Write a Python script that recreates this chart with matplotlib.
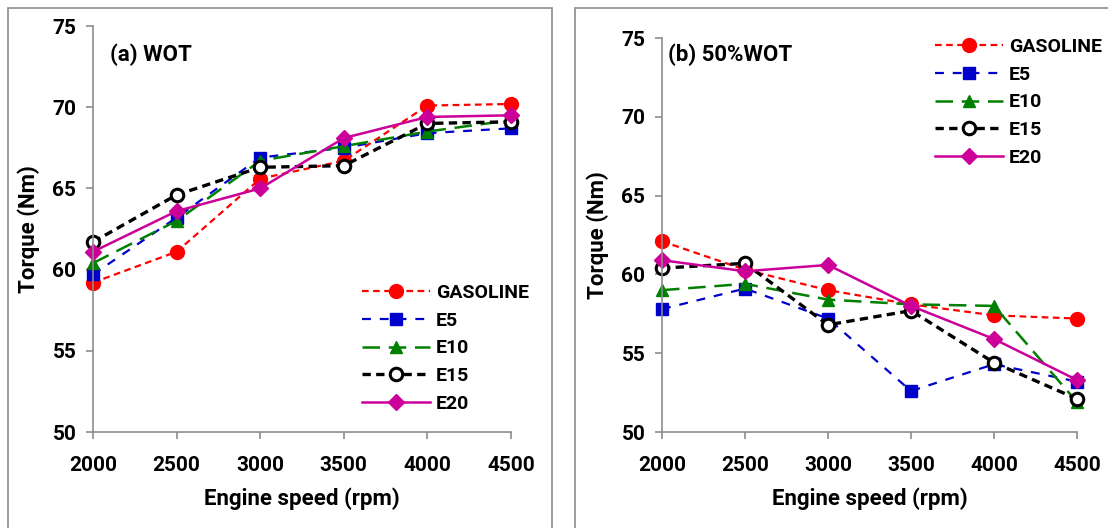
import matplotlib.pyplot as plt
from matplotlib.patches import Rectangle

# Engine speed (rpm)
speed = [2000, 2500, 3000, 3500, 4000, 4500]

# (a) WOT torque (Nm)
wot_gasoline = [59.2, 61.1, 65.6, 66.7, 70.1, 70.2]
wot_e5 = [59.7, 63.2, 66.9, 67.5, 68.4, 68.7]
wot_e10 = [60.4, 63.0, 66.7, 67.6, 68.5, 69.2]
wot_e15 = [61.7, 64.6, 66.3, 66.4, 69.0, 69.1]
wot_e20 = [61.1, 63.6, 65.0, 68.1, 69.4, 69.5]

# (b) 50% WOT torque (Nm)
half_gasoline = [62.1, 60.3, 59.0, 58.1, 57.4, 57.2]
half_e5 = [57.8, 59.1, 57.2, 52.6, 54.3, 53.2]
half_e10 = [59.0, 59.4, 58.4, 58.1, 58.0, 51.9]
half_e15 = [60.4, 60.7, 56.8, 57.7, 54.4, 52.1]
half_e20 = [60.9, 60.2, 60.6, 58.0, 55.9, 53.3]

labels = ["GASOLINE", "E5", "E10", "E15", "E20"]

styles = [
    dict(color="#FF0000", ls=(0, (3, 2)), lw=1.6, marker="o", ms=10,
         mfc="#FF0000", mec="#FF0000"),
    dict(color="#0000CC", ls=(0, (4, 4)), lw=1.6, marker="s", ms=9,
         mfc="#0000CC", mec="#0000CC"),
    dict(color="#008000", ls=(0, (7, 3.5)), lw=1.8, marker="^", ms=9,
         mfc="#008000", mec="#008000"),
    dict(color="#000000", ls=(0, (2.5, 1.6)), lw=2.4, marker="o", ms=9,
         mfc="white", mec="#000000", mew=2.2),
    dict(color="#CC0099", ls="-", lw=1.8, marker="D", ms=8,
         mfc="#CC0099", mec="#CC0099"),
]

plt.rcParams["font.family"] = ["Roboto", "DejaVu Sans"]
plt.rcParams["font.weight"] = "bold"

W, H = 1108, 528
fig = plt.figure(figsize=(W / 100, H / 100), dpi=100)

# panel frames
for x0, w in [(8, 544), (575, 540)]:
    fig.add_artist(Rectangle((x0 / W, -0.1), w / W, (H - 8) / H + 0.1,
                             transform=fig.transFigure, fill=False,
                             edgecolor="#8c8c8c", lw=1.2))

ax1 = fig.add_axes([93 / W, 96 / H, (511 - 93) / W, (432 - 26) / H])
ax2 = fig.add_axes([662 / W, 96 / H, (1077 - 662) / W, (432 - 38) / H])

panels = [
    (ax1, [wot_gasoline, wot_e5, wot_e10, wot_e15, wot_e20], "(a) WOT",
     (110, 55), (362, 284)),
    (ax2, [half_gasoline, half_e5, half_e10, half_e15, half_e20], "(b) 50%WOT",
     (668, 55), (935, 38)),
]

for ax, series, tag, tag_xy, leg_xy in panels:
    for vals, lab, st in zip(series, labels, styles):
        ax.plot(speed, vals, label=lab, clip_on=False, **st)
    ax.set_xlim(2000, 4500)
    ax.set_ylim(50, 75)
    ax.set_xticks(speed)
    ax.set_yticks([50, 55, 60, 65, 70, 75])
    for s in ["top", "right"]:
        ax.spines[s].set_visible(False)
    for s in ["left", "bottom"]:
        ax.spines[s].set_color("#8c8c8c")
        ax.spines[s].set_linewidth(1.2)
    ax.tick_params(axis="both", colors="#8c8c8c", labelcolor="black",
                   labelsize=15, length=5, width=1.2, direction="out")
    ax.tick_params(axis="x", pad=12)
    ax.tick_params(axis="y", pad=7)
    for t in ax.get_xticklabels() + ax.get_yticklabels():
        t.set_fontweight("bold")
    ax.set_xlabel("Engine speed (rpm)", fontsize=16, fontweight="bold", labelpad=9)
    ax.set_ylabel("Torque (Nm)", fontsize=16, fontweight="bold", labelpad=9)
    fig.text(tag_xy[0] / W, 1 - tag_xy[1] / H, tag, fontsize=16,
             fontweight="bold", va="center", ha="left")
    ax.legend(loc="upper left", bbox_to_anchor=(leg_xy[0] / W, 1 - leg_xy[1] / H),
              bbox_transform=fig.transFigure, frameon=False, fontsize=14,
              handlelength=3.5, handletextpad=0.3, labelspacing=0.5,
              borderpad=0, borderaxespad=0)

fig.savefig("out.png", dpi=100)
